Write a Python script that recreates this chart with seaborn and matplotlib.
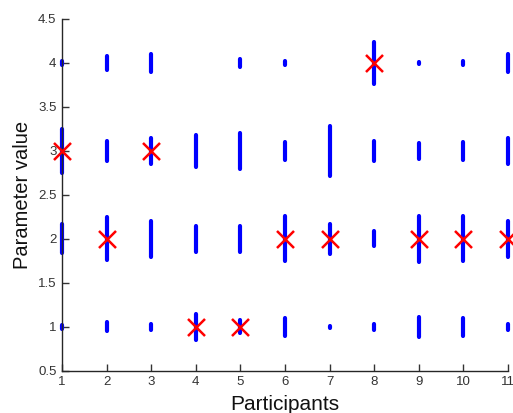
import numpy as np
import matplotlib
matplotlib.use("Agg")
import matplotlib.pyplot as plt
import seaborn as sns

participants = [1, 2, 3, 4, 5, 6, 7, 8, 9, 10, 11]
levels = [1, 2, 3, 4]

# half-length of the blue bar at each level (nan = no bar)
spread_1 = [0.02, 0.05, 0.035, 0.15, 0.075, 0.10, 0.01, 0.035, 0.11, 0.10, 0.035]
spread_2 = [0.165, 0.245, 0.20, 0.15, 0.15, 0.255, 0.175, 0.085, 0.265, 0.255, 0.20]
spread_3 = [0.25, 0.11, 0.15, 0.18, 0.20, 0.10, 0.28, 0.11, 0.09, 0.10, 0.15]
spread_4 = [0.02, 0.08, 0.10, np.nan, 0.05, 0.025, np.nan, 0.24, 0.01, 0.025, 0.10]

# value picked by each participant (red crosses)
chosen = [3, 2, 3, 1, 1, 2, 2, 4, 2, 2, 2]

sns.set_theme(style="white")
plt.rcParams['font.family'] = ['Liberation Sans', 'DejaVu Sans']

fig = plt.figure(figsize=(5.13, 4.13), dpi=100)
ax = fig.add_axes([0.121, 0.102, 0.869, 0.852])

for lev, spread in zip(levels, [spread_1, spread_2, spread_3, spread_4]):
    for p, s in zip(participants, spread):
        if np.isnan(s):
            continue
        ax.vlines(p, lev - s, lev + s, colors='#0000ff', linewidth=3.0,
                  capstyle='round', zorder=2, clip_on=False)

sns.scatterplot(x=participants, y=chosen, marker='x', s=150, color='#ff0000',
                linewidth=1.8, ax=ax, zorder=3, clip_on=False)

ax.set_xlim(1, 11)
ax.set_ylim(0.5, 4.5)
ax.set_xticks(participants)
ax.set_yticks([0.5, 1, 1.5, 2, 2.5, 3, 3.5, 4, 4.5])
ax.set_yticklabels(['0.5', '1', '1.5', '2', '2.5', '3', '3.5', '4', '4.5'])
ax.tick_params(direction='in', length=5, width=1, colors='#333333',
               labelsize=9.5, pad=4, left=True, bottom=True)
for side in ['top', 'right']:
    ax.spines[side].set_visible(False)
for side in ['left', 'bottom']:
    ax.spines[side].set_color('#262626')
    ax.spines[side].set_linewidth(1)

ax.set_xlabel('Participants', fontsize=15, color='#111111', labelpad=5)
ax.set_ylabel('Parameter value', fontsize=14.5, color='#111111', labelpad=4)

fig.savefig('out.png', dpi=100)
